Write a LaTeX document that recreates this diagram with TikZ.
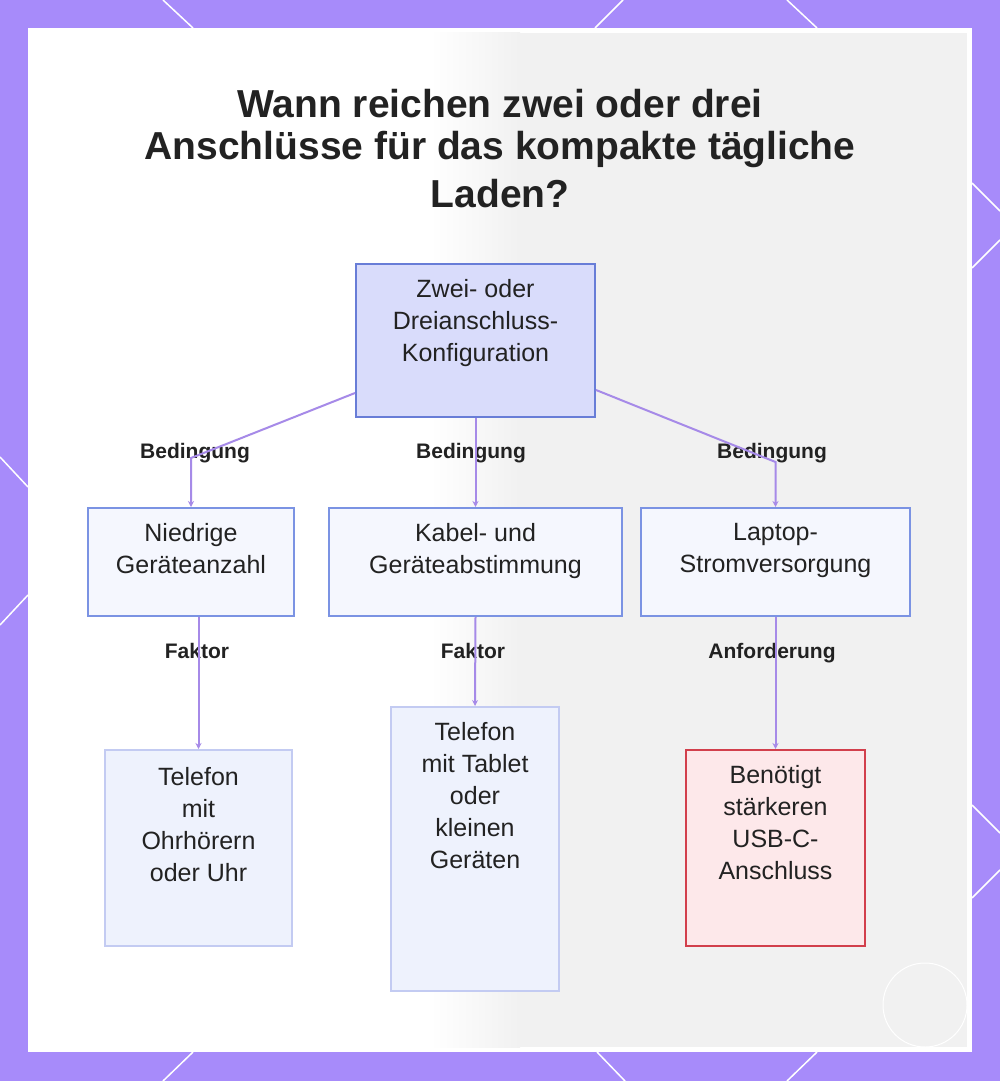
\documentclass[tikz,border=0pt]{standalone}
\usepackage{fontspec}
\setmainfont{Liberation Sans}
\usetikzlibrary{positioning,arrows.meta,calc}
\definecolor{framecolor}{RGB}{167,139,250}
\definecolor{panelgray}{RGB}{241,241,241}
\definecolor{edgecolor}{RGB}{166,138,232}
\definecolor{rootfill}{RGB}{217,220,251}
\definecolor{rootdraw}{RGB}{104,125,215}
\definecolor{condfill}{RGB}{245,247,254}
\definecolor{conddraw}{RGB}{123,147,227}
\definecolor{casefill}{RGB}{238,242,253}
\definecolor{casedraw}{RGB}{195,203,242}
\definecolor{needfill}{RGB}{253,232,234}
\definecolor{needdraw}{RGB}{210,63,76}
\definecolor{textcolor}{RGB}{34,34,34}

\begin{document}
\begin{tikzpicture}[
    x=1pt, y=-1pt,
    root/.style={rectangle, draw=rootdraw, fill=rootfill, line width=2pt},
    cond/.style={rectangle, draw=conddraw, fill=condfill, line width=2pt},
    case/.style={rectangle, draw=casedraw, fill=casefill, line width=2pt},
    need/.style={rectangle, draw=needdraw, fill=needfill, line width=2pt},
    boxtext/.style={inner sep=0pt, align=center, text=textcolor, font=\fontsize{25}{32}\selectfont},
    edgelabel/.style={inner sep=0pt, anchor=base, text=textcolor, font=\fontsize{21}{24}\selectfont\bfseries},
    title/.style={inner sep=0pt, align=center, text=textcolor, font=\fontsize{39}{42}\selectfont\bfseries},
    arrow/.style={->, >={Stealth[length=6pt,width=6pt]}, draw=edgecolor, line width=2pt},
    frameline/.style={white, line width=1.5pt}
]
\useasboundingbox (0,0) rectangle (1000,1081);

% Frame and panel
\fill[framecolor] (0,0) rectangle (1000,1081);
\draw[frameline] (163,0) -- (193,28);
\draw[frameline] (623,0) -- (595,28);
\draw[frameline] (787,0) -- (817,28);
\draw[frameline] (193,1052) -- (163,1081);
\draw[frameline] (597,1052) -- (625,1081);
\draw[frameline] (817,1052) -- (787,1081);
\draw[frameline] (0,457) -- (28,487);
\draw[frameline] (28,595) -- (0,625);
\draw[frameline] (972,183) -- (1000,211);
\draw[frameline] (1000,240) -- (972,268);
\draw[frameline] (972,805) -- (1000,833);
\draw[frameline] (1000,870) -- (972,898);
\fill[white] (28,28) rectangle (972,1052);
\shade[left color=white, right color=panelgray] (430,33) rectangle (520,1047);
\fill[panelgray] (520,33) rectangle (967,1047);
\draw[white, line width=1pt] (925,1005) circle (42pt);

% Title
\node[title, anchor=north] (title) at (500,89)
    {Wann reichen zwei oder drei\\Anschlüsse für das kompakte tägliche\\[6pt]Laden?};

% Boxes
\node[root, minimum width=239pt, minimum height=153pt] (root) at (475.5,340.5) {};
\node[cond, minimum width=206pt, minimum height=108pt] (lowcount) at (191,562) {};
\node[cond, minimum width=293pt, minimum height=108pt] (matching) at (475.5,562) {};
\node[cond, minimum width=269pt, minimum height=108pt] (laptop) at (775.5,562) {};
\node[case, minimum width=187pt, minimum height=196pt] (phonewatch) at (198.5,848) {};
\node[case, minimum width=168pt, minimum height=284pt] (phonetablet) at (475,849) {};
\node[need, minimum width=179pt, minimum height=196pt] (usbc) at (775.5,848) {};

% Box texts
\node[boxtext, below=16pt of root.north] (roottext) {Zwei- oder\\Dreianschluss-\\Konfiguration};
\node[boxtext, below=16pt of lowcount.north] (lowcounttext) {Niedrige\\Geräteanzahl};
\node[boxtext, below=16pt of matching.north] (matchingtext) {Kabel- und\\Geräteabstimmung};
\node[boxtext, below=16pt of laptop.north] (laptoptext) {Laptop-\\Stromversorgung};
\node[boxtext, below=18pt of phonewatch.north] (phonewatchtext) {Telefon\\mit\\Ohrhörern\\oder Uhr};
\node[boxtext, below=16pt of phonetablet.north] (phonetablettext) {Telefon\\mit Tablet\\oder\\kleinen\\Geräten};
\node[boxtext, below=16pt of usbc.north] (usbctext) {Benötigt\\stärkeren\\USB-C-\\Anschluss};

% Edge labels
\node[edgelabel] (cond1) at (195,458) {Bedingung};
\node[edgelabel] (cond2) at (471,458) {Bedingung};
\node[edgelabel] (cond3) at (772,458) {Bedingung};
\node[edgelabel] (factor1) at (197,658) {Faktor};
\node[edgelabel] (factor2) at (473,658) {Faktor};
\node[edgelabel] (demand) at (772,658) {Anforderung};

% Arrows
\draw[arrow] ([yshift=25pt]root.south west) -- ([yshift=49pt]lowcount.north) -- (lowcount.north);
\draw[arrow] (root.south) -- (matching.north);
\draw[arrow] ([yshift=28pt]root.south east) -- ([yshift=45pt]laptop.north) -- (laptop.north);
\draw[arrow] (lowcount.south -| phonewatch.north) -- (phonewatch.north);
\draw[arrow] (matching.south) -- (phonetablet.north);
\draw[arrow] (laptop.south) -- (usbc.north);

\end{tikzpicture}
\end{document}
